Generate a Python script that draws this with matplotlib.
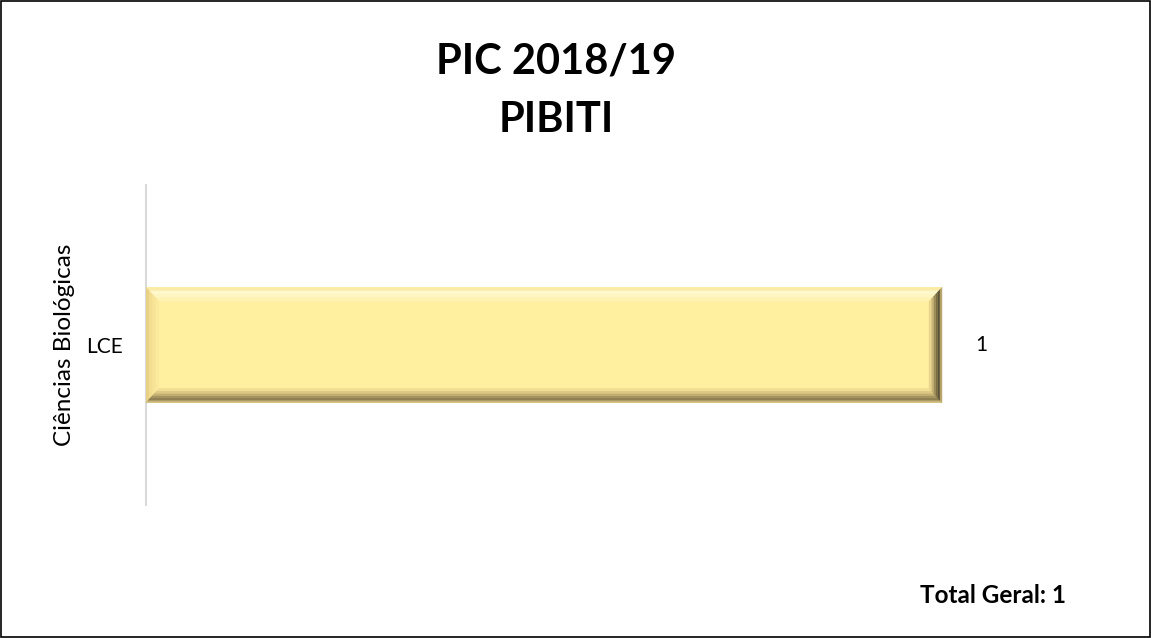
import matplotlib
matplotlib.use("Agg")
import matplotlib.pyplot as plt
from matplotlib.patches import Rectangle, Polygon

# data
categories = ["LCE"]
group_label = "Ciências Biológicas"
values = [1]
title = "PIC 2018/19\nPIBITI"
total_text = "Total Geral: 1"

plt.rcParams['font.family'] = ['Lato', 'DejaVu Sans']

W, H = 1151, 638
fig = plt.figure(figsize=(W / 100, H / 100), dpi=100)

# outer border of the chart area
fig.patches.append(Rectangle((0.6 / W, 0.6 / H), 1 - 1.6 / W, 1 - 1.6 / H,
                             transform=fig.transFigure, fill=False,
                             edgecolor='black', linewidth=1.2))

ax = fig.add_axes([146 / W, 133 / H, 875.6 / W, 320 / H])
ax.set_xlim(0, 1.1)
ax.set_ylim(-0.5, 0.5)
for s in ['top', 'right', 'bottom']:
    ax.spines[s].set_visible(False)
ax.spines['left'].set_color('#D9D9D9')
ax.spines['left'].set_linewidth(1.5)
ax.set_xticks([])
ax.set_yticks(range(len(categories)))
ax.set_yticklabels(categories, fontsize=15)
ax.tick_params(axis='y', length=0, pad=17)

bar_h = 0.36
bars = ax.barh(range(len(categories)), values, height=bar_h,
               color='#FFF0A0', edgecolor='none', zorder=2)

# bevel look: stacked bands from outer edge inwards
bx = 13 / 796.0
by = 14 / 320.0
top_cols = ['#FBEBA6', '#FFF8CC', '#FFF6C2', '#FFF3B2']
left_cols = ['#E8D085', '#F2DC90', '#F7E496', '#FBEA9C']
bot_cols = ['#C9B67A', '#8F8052', '#A49360', '#C2AE70', '#DDC884', '#F0DC92']
right_cols = ['#B8A66C', '#5E5538', '#7A6D46', '#9C8C5A', '#C8B476', '#EAD58E']


def band(x0, y0, x1, y1, side, f0, f1):
    if side == 'top':
        return [(x0 + bx * f0, y1 - by * f0), (x1 - bx * f0, y1 - by * f0),
                (x1 - bx * f1, y1 - by * f1), (x0 + bx * f1, y1 - by * f1)]
    if side == 'bottom':
        return [(x0 + bx * f0, y0 + by * f0), (x1 - bx * f0, y0 + by * f0),
                (x1 - bx * f1, y0 + by * f1), (x0 + bx * f1, y0 + by * f1)]
    if side == 'left':
        return [(x0 + bx * f0, y0 + by * f0), (x0 + bx * f0, y1 - by * f0),
                (x0 + bx * f1, y1 - by * f1), (x0 + bx * f1, y0 + by * f1)]
    return [(x1 - bx * f0, y0 + by * f0), (x1 - bx * f0, y1 - by * f0),
            (x1 - bx * f1, y1 - by * f1), (x1 - bx * f1, y0 + by * f1)]


for b in bars:
    x0, y0 = b.get_x(), b.get_y()
    x1, y1 = x0 + b.get_width(), y0 + b.get_height()
    for side, cols, z in [('top', top_cols, 3), ('left', left_cols, 3),
                          ('bottom', bot_cols, 4), ('right', right_cols, 5)]:
        n = len(cols)
        for i, c in enumerate(cols):
            ax.add_patch(Polygon(band(x0, y0, x1, y1, side, i / n, (i + 1) / n),
                                 closed=True, facecolor=c, edgecolor=c,
                                 linewidth=0.3, zorder=z))
    ax.annotate(f"{b.get_width():g}", (x1, y0 + b.get_height() / 2),
                xytext=(33, 0), textcoords='offset pixels',
                ha='left', va='center', fontsize=15)

ax.text(-81 / 875.6, 0.5, group_label, transform=ax.transAxes,
        rotation=90, ha='center', va='center', fontsize=17.5)

title_lines = title.split('\n')
for line, base in zip(title_lines, [73, 132]):
    fig.text(556.5 / W, 1 - base / H, line, ha='center', va='baseline',
             fontsize=30, fontweight='bold')
fig.text(1066 / W, 1 - 603 / H, total_text, ha='right', va='baseline',
         fontsize=17.5, fontweight='bold')

fig.savefig("out.png", dpi=100)
